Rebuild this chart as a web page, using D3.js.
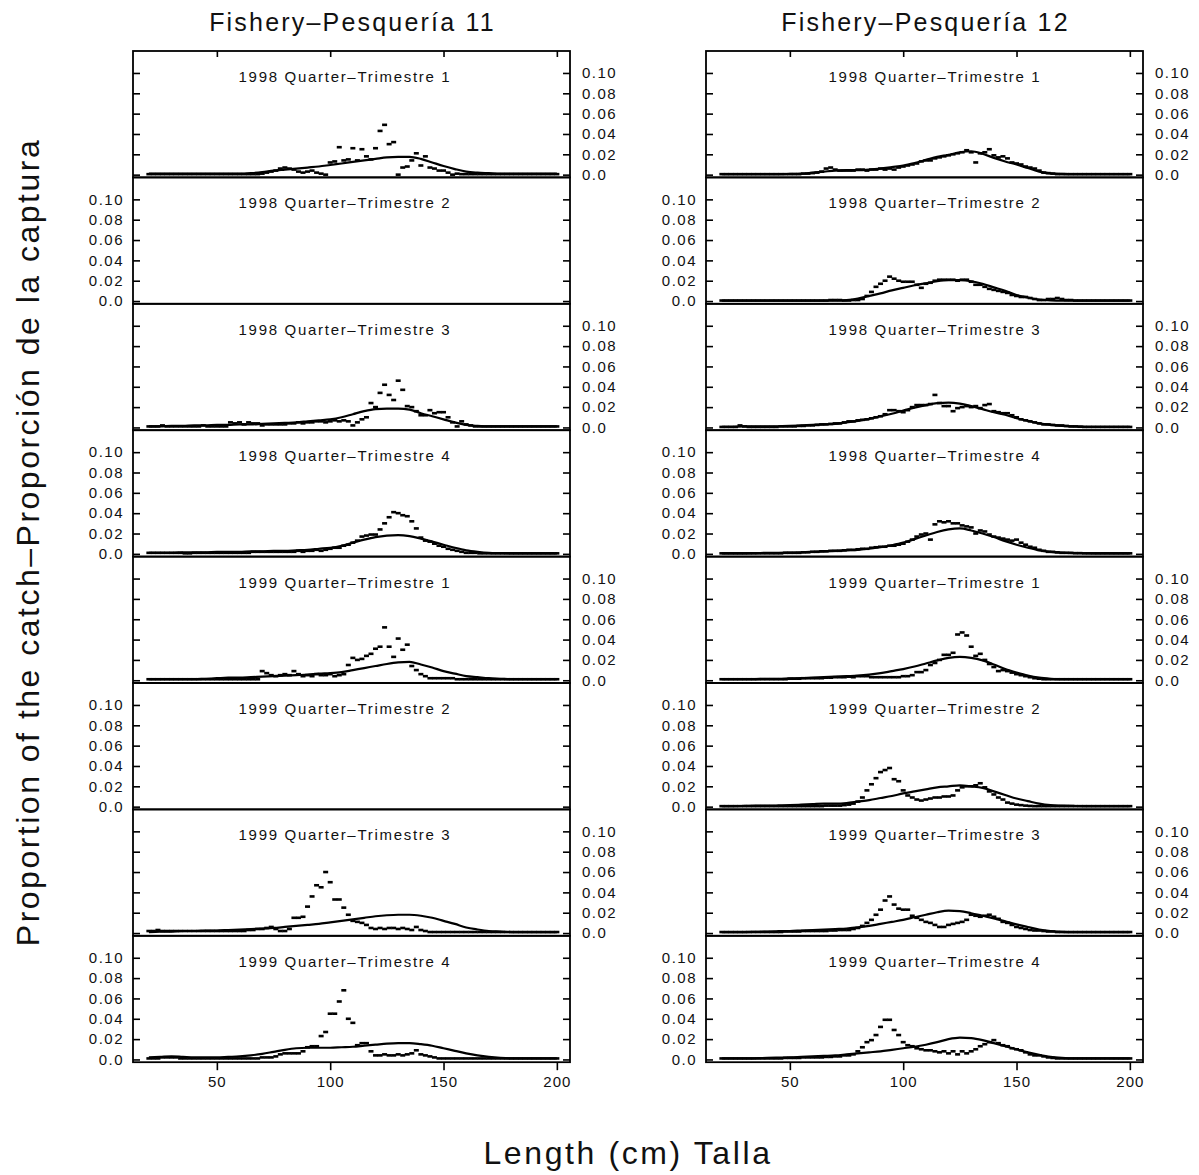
<!DOCTYPE html>
<html><head><meta charset="utf-8">
<script src="https://cdn.jsdelivr.net/npm/d3@7"></script>
<style>body{margin:0;background:#fff}svg{display:block}</style>
</head><body>
<svg id="chart" width="1199" height="1175"></svg>
<script>
// ---------------- DATA (proportions in thousandths) ----------------
const PER_MILLE = 0.001;
const fisheryTitles = ["Fishery\u2013Pesquer\u00eda 11", "Fishery\u2013Pesquer\u00eda 12"];
const quarterLabels = ["1998 Quarter\u2013Trimestre 1","1998 Quarter\u2013Trimestre 2","1998 Quarter\u2013Trimestre 3","1998 Quarter\u2013Trimestre 4",
                       "1999 Quarter\u2013Trimestre 1","1999 Quarter\u2013Trimestre 2","1999 Quarter\u2013Trimestre 3","1999 Quarter\u2013Trimestre 4"];
const xTicks = [50, 100, 150, 200];
const yTicks = [0, 0.02, 0.04, 0.06, 0.08, 0.10];
const yTickLabels = ["0.0", "0.02", "0.04", "0.06", "0.08", "0.10"];
const xLabel = "Length (cm) Talla";
const yLabel = "Proportion of the catch\u2013Proporci\u00f3n de la captura";

const lengthBins = [20,22,24,26,28,30,32,34,36,38,40,42,44,46,48,50,52,54,56,58,60,62,64,66,68,70,72,74,76,78,80,82,84,86,88,90,92,94,96,98,100,102,104,106,108,110,112,114,116,118,120,122,124,126,128,130,132,134,136,138,140,142,144,146,148,150,152,154,156,158,160,162,164,166,168,170,172,174,176,178,180,182,184,186,188,190,192,194,196,198,200];
const curveLengths = [20,25,30,35,40,45,50,55,60,65,70,75,80,85,90,95,100,105,110,115,120,125,130,135,140,145,150,155,160,165,170,175,180,185,190,195,200];

// Fishery 11
const f11_98q1_obs = [.5,.5,.5,.5,.5,.5,.5,.5,.5,.5, .5,.5,.5,.5,.5,.5,.5,.5,.5,.5, .5,.5,.5,.5,.5,1,2,3,4,6, 7,6,5,3,2,3,4,2,1,0, 12,13,27,14,15,26,14,25,18,15, 26,43,49,30,32,0,7,8,14,21, 9,18,7,6,4,4,2,0,1,.5, .5,.5,.5,.5,.5,.5,.5,.5,.5,.5, .5,.5,.5,.5,.5,.5,.5,.5,.5,.5, .5];
const f11_98q1_fit = [1,1,1,1,1,1,1,1,1,1.5, 2.5,4,5,6,7,8,9.5,11,12.5,14, 15.5,17,17.5,17.5,15.5,12,8.5,5.5,3,2, 1.5,1,1,1,1,1,1];
const f11_98q3_obs = [1,1,1,2,1,1,1,1,1,1, 1,1,2,1,1,1,1,1,5,4, 5,3,5,4,4,2,3,3,3,3, 3,4,4,5,4,5,5,6,6,5, 6,7,6,7,6,2,5,8,10,24, 20,34,42,32,27,46,37,21,20,16, 12,12,17,14,15,15,10,5,1,6, 3,2,1,1,1,1,1,1,1,1, 1,1,1,1,1,1,1,1,1,1, 1];
const f11_98q3_fit = [1,1,1.5,1.5,2,2,2.5,2.5,3,3, 3.5,4,4.5,5,6,7,8,10,13,16, 18,18.5,18.5,17.5,14,11,8,5,2.5,1.5, 1,1,1,1,1,1,1];
const f11_98q4_obs = [1,1,1,1,1,1,1,1,.5,.5, 1,1,1,1,1,1,1,1,1,1, 1,1,1,2,2,2,2,2,2,2, 2,2,2,3,2,3,3,4,3,4, 5,6,6,8,9,11,13,17,18,19, 19,24,30,36,41,40,38,37,32,25, 16,13,12,10,8,7,5,4,3,2, 1,1,1,.5,.5,.5,.5,.5,.5,.5, .5,.5,.5,.5,.5,.5,.5,.5,.5,.5, .5];
const f11_98q4_fit = [1,1,1,1.5,1.5,1.5,2,2,2,2.5, 2.5,3,3,3.5,4,5,6,8,11,14, 16.5,18,18.5,17.5,15,12,9,6,3.5,2, 1,.7,.5,.5,.5,.5,.5];
const f11_99q1_obs = [1,1,1,1,1,1,1,1,1,1, 1,1,1,1,1,1,1,1,1,1, 1,1,1,1,1,9,7,5,4,5, 6,5,9,6,4,5,4,6,5,5, 6,4,5,6,15,22,20,21,24,26, 31,33,52,33,23,41,30,35,14,10, 6,4,2,2,2,2,2,2,1,1, 1,1,1,1,1,1,1,1,1,1, 1,1,1,1,1,1,1,1,1,1, 1];
const f11_99q1_fit = [1,1,1,1,1,1.5,2,2.5,2.5,3, 3.5,4,4.5,5,5.5,6.5,7,8,10,12, 14,16,17.5,18,15.5,12.5,9,6.5,4,3, 2,1.5,1,1,1,1,1];
const f11_99q3_obs = [2,2,3,2,2,2,2,2,2,2, 2,2,2,2,2,2,2,2,2,2, 2,2,3,3,4,4,5,6,4,2, 2,4,15,15,16,26,36,47,45,60, 50,33,33,25,18,12,11,10,8,5, 4,5,4,5,5,4,5,4,3,6, 3,2,1,1,1,1,1,1,1,1, 1,1,1,1,1,1,1,1,1,1, 1,1,1,1,1,1,1,1,1,1, 1];
const f11_99q3_fit = [1,1.5,1.5,2,2,2.5,2.5,3,3.5,4, 4.5,5,6,7,8,9,10.5,12,13.5,15, 16.5,17.5,18,18,17,15,12,9,5.5,3.5, 2,1.5,1,1,1,1,1];
const f11_99q4_obs = [1,1,1,2,2,2,2,1,1,1, 1,1,1,1,1,1,1,1,1,1, 1,1,1,1,1,2,2,2,3,5, 6,6,6,6,8,12,13,13,23,27, 45,45,57,68,40,36,14,16,16,8, 4,4,5,4,4,5,4,5,6,9, 5,4,3,2,1,1,1,1,1,1, 1,1,1,1,1,1,1,1,1,1, 1,1,1,1,1,1,1,1,1,1, 1];
const f11_99q4_fit = [2,2.5,3,2.5,2,2,2,2.5,3,4, 5.5,7.5,9.5,11,11.5,11.5,11.5,12,12.5,13.5, 14.5,15.5,16,16,15,13.5,11,8.5,6,4, 2.5,1.5,1,1,1,1,1];

// Fishery 12
const f12_98q1_obs = [.5,.5,.5,.5,.5,.5,.5,.5,.5,.5, .5,.5,.5,.5,.5,.5,.5,.5,1,1, 1.5,2,3,6,7,5,4,4,4,4, 5,5,4,5,5,6,5,6,5,7, 8,9,10,11,13,14,14,16,17,18, 19,20,21,22,24,22,12,21,22,25, 19,17,18,16,12,11,10,8,7,6, 4,2,1.5,1,.5,.5,.5,.5,.5,.5, .5,.5,.5,.5,.5,.5,.5,.5,.5,.5, .5];
const f12_98q1_fit = [.5,.5,.5,.5,.5,.5,.7,1,2,3, 4,4.5,4.5,5,6,7.5,9,11.5,14.5,17.5, 19.5,22,23,20.5,16.5,13,10,6.5,3,1.2, .7,.5,.5,.5,.5,.5,.5];
const f12_98q2_obs = [.5,.5,.5,.5,.5,.5,.5,.5,.5,.5, .5,.5,.5,.5,.5,.5,.5,.5,.5,.5, .5,.5,.5,.5,1,1,1,.5,.5,1, 1,2,5,9,14,17,20,24,22,20, 19,19,19,16,13,17,18,20,21,21, 21,21,20,21,21,19,16,16,14,12, 11,10,9,8,6,5,4,4,3,2, 1,1,2,2,3,2,1,1,.5,.5, .5,.5,.5,.5,.5,.5,.5,.5,.5,.5, .5];
const f12_98q2_fit = [.5,.5,.5,.5,.5,.5,.5,.5,.5,.5, .5,1,2.5,5,7.5,10.5,13,15.5,17.5,19.5, 20.5,20.5,19.5,17,13.5,10,6,3.5,1.5,.7, .5,.5,.5,.5,.5,.5,.5];
const f12_98q3_obs = [.5,.5,.5,.5,2,1,.5,.5,.5,.5, .5,.5,.5,1,1,1,1,1.5,1.5,2, 2,2.5,3,3,3.5,4,4,5,6,6, 7,7.5,8,9,10,11,13,17,17,16, 15,17,20,22,22,22,23,32,24,21, 21,16,19,20,21,20,21,19,22,23, 16,15,14,14,12,10,8,7,6,5, 4,3,3,2.5,2,2,1.5,1,1,.7, .5,.5,.5,.5,.5,.5,.5,.5,.5,.5, .5];
const f12_98q3_fit = [.5,.7,1,1,1,1.2,1.5,2,2.5,3, 3.5,5,6.5,8.5,11,13.5,16.5,19.5,22,24, 24.5,23.5,21,18,15,12.5,9,6.5,4,2.5, 1.5,1,.7,.5,.5,.5,.5];
const f12_98q4_obs = [.5,.5,.5,.5,.5,.5,.5,.5,.5,.5, .5,.5,.5,.5,1,1,1,1,1.5,1.5, 2,2,2.5,2.5,3,3,3,3.5,4,4, 4.5,5,5,6,6.5,7,7,8,8,9, 10,12,14,17,19,20,14,29,32,31, 32,30,30,28,27,26,20,23,22,19, 17,16,15,14,13,14,11,9,7,6, 4,3,2,2,1.5,1,1,1,.7,.7, .5,.5,.5,.5,.5,.5,.5,.5,.5,.5, .5];
const f12_98q4_fit = [.5,.5,.5,.7,1,1,1.2,1.5,2,2.5, 3,3.5,4,5,6.5,8.5,11,14.5,18,21.5, 24,25,23,20,16.5,12.5,9,6,3.5,2, 1.2,.8,.6,.5,.5,.5,.5];
const f12_99q1_obs = [1,1,1,1,1,1,1,1,1,1, 1,1,1,1,1,1.5,1.5,1.5,2,2, 2,2,2,2.5,2.5,3,3,3,3.5,3, 4,4,4,3,3,3,3,3,3,3, 4,4,5,8,8,10,15,17,20,25, 25,27,45,47,44,33,24,26,20,16, 13,9,10,9,7.5,6,5,4,3,2, 1.5,1,1,1,1,1,1,1,1,1, 1,1,1,1,1,1,1,1,1,1, 1];
const f12_99q1_fit = [1,1,1,1.2,1.5,1.5,1.8,2,2.5,3, 3.5,4,4.5,5.5,7,9,11,13.5,16.5,19.5, 22,23,22,19.5,15.5,11,7.5,4.5,2.5,1.5, 1,1,1,1,1,1,1];
const f12_99q2_obs = [.5,.5,.5,.5,.5,.5,.5,.5,.5,.5, .5,.5,.5,.5,.5,.5,.5,.5,.5,.5, .5,.5,.5,1,1,1,1,1.5,2,3, 5,9,16,22,28,34,36,38,27,25, 16,11,9,7,6,7,8,9,9,10, 10,11,16,19,20,20,21,23,19,15, 12,9,7,4,3,2,1.5,1,.7,.5, .5,.5,.5,.5,.5,.5,.5,.5,.5,.5, .5,.5,.5,.5,.5,.5,.5,.5,.5,.5, .5];
const f12_99q2_fit = [.5,.5,.7,1,1,1.2,1.5,2,2.5,3, 3,3.5,5,6.5,8.5,10.5,13,15,17,19, 20,21,20,18.5,15,11.5,8,5.5,3,1.5, 1,.7,.5,.5,.5,.5,.5];
const f12_99q3_obs = [1,1,1,1,1,1,1,1,1,1, 1,1,1,1,1.5,1.5,1.5,1.5,2,2, 2,2,2,2,2.5,2.5,3,3,3,4, 5,7,10,13,18,23,32,36,28,24, 23,23,17,15,13,11,10,8,6,6, 8,9,10,11,13,18,17,16,17,18, 16,14,11,10,8,6,5,4,3,2.5, 2.5,2,1.5,1.5,1,1,1,1,1,1, 1,1,1,1,1,1,1,1,1,1, 1];
const f12_99q3_fit = [1,1,1,1.2,1.5,1.8,2,2.5,3,3.5, 4,4.5,5.5,7,9,11,13,15.5,18,20.5, 22,21.5,19.5,17,14.5,11.5,8.5,6,3.5,2, 1.2,1,1,1,1,1,1];
const f12_99q4_obs = [1,1,1,1,1,1,1,1,1,1, 1,1,1,1,1.5,1.5,1.5,1.5,2,2, 2,2,2,2.5,2.5,3,3,4,4,5, 8,12,17,19,24,32,39,39,29,24, 17,14,13,11,10,9,9,8,7,8, 6,8,5,8,6,8,10,13,15,17, 19,16,14,13,11,10,9,7,5,4, 4,3,2,1.5,1,1,1,1,1,1, 1,1,1,1,1,1,1,1,1,1, 1];
const f12_99q4_fit = [1,1,1,1.2,1.5,1.8,2,2.5,3,3.5, 4,5,6,7,8,9.5,11,12.5,14.5,17, 20,21.5,21,19,16,13,10,7,4.5,2.5, 1.5,1,1,1,1,1,1];

// panel table: [column][row] -> {obs, fit} (null = no data)
const panelData = [
  [{obs:f11_98q1_obs, fit:f11_98q1_fit}, null, {obs:f11_98q3_obs, fit:f11_98q3_fit}, {obs:f11_98q4_obs, fit:f11_98q4_fit},
   {obs:f11_99q1_obs, fit:f11_99q1_fit}, null, {obs:f11_99q3_obs, fit:f11_99q3_fit}, {obs:f11_99q4_obs, fit:f11_99q4_fit}],
  [{obs:f12_98q1_obs, fit:f12_98q1_fit}, {obs:f12_98q2_obs, fit:f12_98q2_fit}, {obs:f12_98q3_obs, fit:f12_98q3_fit}, {obs:f12_98q4_obs, fit:f12_98q4_fit},
   {obs:f12_99q1_obs, fit:f12_99q1_fit}, {obs:f12_99q2_obs, fit:f12_99q2_fit}, {obs:f12_99q3_obs, fit:f12_99q3_fit}, {obs:f12_99q4_obs, fit:f12_99q4_fit}]
];

// ---------------- LAYOUT ----------------
const svg = d3.select("#chart");
const FONT = "'Liberation Sans', Arial, Helvetica, sans-serif";
const PW = 437, PH = 126.4, TOP = 51;
const colLeft = [133, 706];
const titleOffset = [212, 229];

const x = d3.scaleLinear().domain([13, 205.8]).range([0, PW]);
const y = d3.scaleLinear().domain([-0.0027, 0.1216]).range([PH, 0]);
const line = d3.line().x(d => x(d[0])).y(d => y(d[1])).curve(d3.curveMonotoneX);

function styleAxis(g) {
  g.select(".domain").remove();
  g.selectAll(".tick line").attr("stroke", "#000").attr("stroke-width", 1.6);
  g.selectAll(".tick text").attr("fill", "#111").attr("font-family", FONT)
    .attr("font-size", 15).attr("letter-spacing", "1.5px");
}

fisheryTitles.forEach((t, c) => {
  svg.append("text").attr("x", colLeft[c] + PW / 2 + 1).attr("y", 31)
    .attr("text-anchor", "middle").attr("font-family", FONT).attr("font-size", 25)
    .attr("letter-spacing", "2.2px").attr("fill", "#111").text(t);
});

for (let c = 0; c < 2; c++) {
  for (let r = 0; r < 8; r++) {
    const g = svg.append("g").attr("transform", `translate(${colLeft[c]},${TOP + r * PH})`);
    const labelsRight = (r % 2 === 0);

    // y axes (inward ticks both sides)
    const left = g.append("g").call(d3.axisLeft(y).tickValues(yTicks).tickSize(-7).tickPadding(9)
      .tickFormat((d, i) => labelsRight ? "" : yTickLabels[i]));
    styleAxis(left);
    const right = g.append("g").attr("transform", `translate(${PW},0)`)
      .call(d3.axisRight(y).tickValues(yTicks).tickSize(-7).tickPadding(12)
      .tickFormat((d, i) => labelsRight ? yTickLabels[i] : ""));
    styleAxis(right);

    if (r === 0) {
      const top = g.append("g").call(d3.axisTop(x).tickValues(xTicks).tickSize(-6).tickFormat(""));
      styleAxis(top);
    }
    if (r === 7) {
      const bot = g.append("g").attr("transform", `translate(0,${PH})`)
        .call(d3.axisBottom(x).tickValues(xTicks).tickSize(8).tickPadding(6));
      styleAxis(bot);
      bot.selectAll(".tick text").attr("letter-spacing", "1px");
    }

    // panel title
    g.append("text").attr("x", titleOffset[c]).attr("y", 31).attr("text-anchor", "middle")
      .attr("font-family", FONT).attr("font-size", 15).attr("letter-spacing", "1.7px")
      .attr("fill", "#111").text(quarterLabels[r]);

    const pd = panelData[c][r];
    if (pd) {
      const obs = lengthBins.map((L, i) => [L, pd.obs[i] * PER_MILLE]);
      const fit = curveLengths.map((L, i) => [L, pd.fit[i] * PER_MILLE]);
      g.append("g").selectAll("rect").data(obs).join("rect")
        .attr("x", d => x(d[0]) - 2.5).attr("y", d => y(d[1]) - 1.3)
        .attr("width", 5).attr("height", 2.6).attr("fill", "#000");
      g.append("path").datum(fit).attr("d", line).attr("fill", "none")
        .attr("stroke", "#000").attr("stroke-width", 2.2);
    }

    // frame
    g.append("rect").attr("x", 0).attr("y", 0).attr("width", PW).attr("height", PH)
      .attr("fill", "none").attr("stroke", "#000").attr("stroke-width", 1.8);
  }
}

// axis titles
svg.append("text").attr("x", 628).attr("y", 1164).attr("text-anchor", "middle")
  .attr("font-family", FONT).attr("font-size", 32).attr("letter-spacing", "2.6px")
  .attr("fill", "#111").text(xLabel);
svg.append("text").attr("transform", "translate(39,542) rotate(-90)").attr("text-anchor", "middle")
  .attr("font-family", FONT).attr("font-size", 32).attr("letter-spacing", "2.5px")
  .attr("fill", "#111").text(yLabel);
</script>
</body></html>
